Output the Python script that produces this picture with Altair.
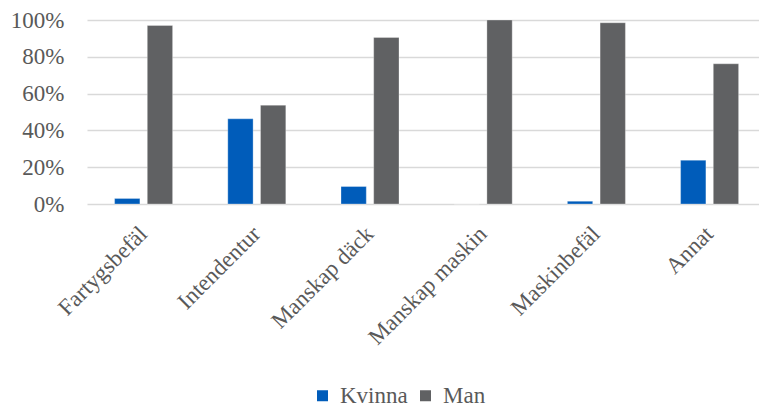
import altair as alt
import pandas as pd

# Share of women and men per occupational group on board
categories = ["Fartygsbefäl", "Intendentur", "Manskap däck", "Manskap maskin", "Maskinbefäl", "Annat"]
kvinna = [0.03, 0.463, 0.095, 0.0, 0.015, 0.238]
man = [0.97, 0.537, 0.905, 1.0, 0.985, 0.762]
series = ["Kvinna", "Man"]
colors = ["#005CBA", "#606163"]

rows = []
for cat, k, m in zip(categories, kvinna, man):
    rows.append({"Kategori": cat, "Kön": "Kvinna", "Andel": k})
    rows.append({"Kategori": cat, "Kön": "Man", "Andel": m})
df = pd.DataFrame(rows)

FONT = "Liberation Serif"
TEXT = "#595959"
GRID = "#D9D9D9"
SIZE = 23

chart = (
    alt.Chart(df)
    .mark_bar(stroke="white", strokeWidth=0.6, strokeOpacity=0.5)
    .encode(
        x=alt.X(
            "Kategori:N",
            sort=categories,
            title=None,
            scale=alt.Scale(range=[0, 679.2], paddingInner=0, paddingOuter=0),
            axis=alt.Axis(
                labelAngle=-45,
                labelAlign="right",
                labelBaseline="middle",
                labelPadding=26,
                labelFont=FONT,
                labelFontSize=SIZE,
                labelColor=TEXT,
                ticks=False,
                domain=False,
                grid=False,
                labelOverlap=False,
            ),
        ),
        xOffset=alt.XOffset(
            "Kön:N",
            sort=series,
            scale=alt.Scale(paddingInner=0.226, paddingOuter=0.844),
        ),
        y=alt.Y(
            "Andel:Q",
            title=None,
            scale=alt.Scale(domain=[0, 1], nice=False),
            axis=alt.Axis(
                format=".0%",
                values=[0, 0.2, 0.4, 0.6, 0.8, 1.0],
                labelFont=FONT,
                labelFontSize=SIZE,
                labelColor=TEXT,
                labelPadding=23,
                ticks=False,
                domain=False,
                gridColor=GRID,
                gridWidth=1.5,
            ),
        ),
        color=alt.Color(
            "Kön:N",
            sort=series,
            scale=alt.Scale(domain=series, range=colors),
            legend=alt.Legend(
                title=None,
                orient="none",
                direction="horizontal",
                legendX=224,
                legendY=364,
                symbolType="square",
                symbolSize=121,
                symbolStrokeWidth=0,
                symbolOffset=0,
                labelFont=FONT,
                labelFontSize=SIZE,
                labelColor=TEXT,
                labelOffset=6,
                columnPadding=6,
                padding=0,
                labelLimit=200,
            ),
        ),
    )
    .properties(
        width=672,
        height=184,
        padding={"left": 87, "top": 20, "right": 0, "bottom": 206},
        autosize=alt.AutoSizeParams(type="none"),
    )
    .configure(background="white", font=FONT)
    .configure_legend(labelFont=FONT)
    .configure_view(stroke=None)
)

chart.save("out.html", embed_options={"renderer": "svg", "actions": False})
